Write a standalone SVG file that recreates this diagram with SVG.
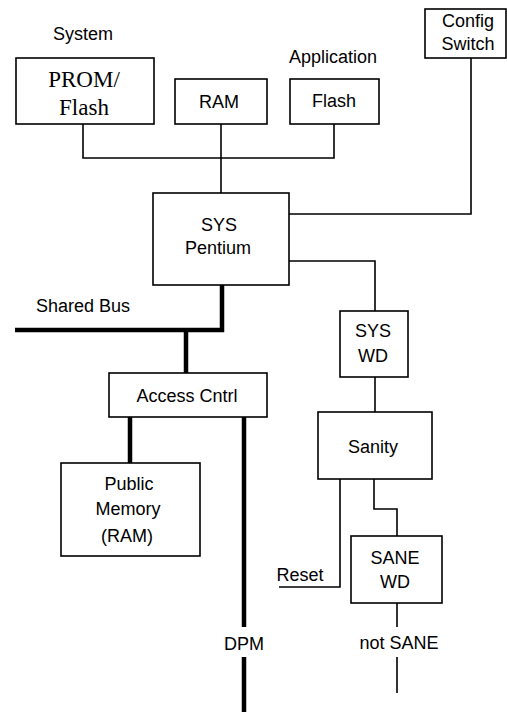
<svg xmlns="http://www.w3.org/2000/svg" width="507" height="712" viewBox="0 0 507 712">
<style>
.box{fill:#fff;stroke:#000;stroke-width:1.6}
.t{font-family:"Liberation Sans",Arial,sans-serif;font-size:18px;fill:#000;text-anchor:middle}
.s{font-family:"Liberation Serif","Times New Roman",serif;font-size:23px;fill:#000;text-anchor:middle}
.thin{fill:none;stroke:#000;stroke-width:1.6}
.thick{fill:none;stroke:#000;stroke-width:4.5}
</style>
<rect width="507" height="712" fill="#fff"/>
<g id="connectors">
<path class="thin" d="M83 124V158H334V124"/>
<path class="thin" d="M221 124V193"/>
<path class="thin" d="M289 214H471V58"/>
<path class="thin" d="M289 261H375V311"/>
<path class="thin" d="M375 377V412"/>
<path class="thin" d="M340 479V587H279"/>
<path class="thin" d="M374 479V509H397V536"/>
<path class="thin" d="M397 603V627M397 657V693"/>
<path class="thick" d="M15 330H222V285"/>
<path class="thick" d="M186 330V373"/>
<path class="thick" d="M130 417V463"/>
<path class="thick" d="M244 417V627M244 657V712"/>
</g>
<g id="label-system"><text class="t" x="83" y="40">System</text></g>
<g id="label-application"><text class="t" x="333" y="63">Application</text></g>
<g id="prom"><rect class="box" x="16" y="58" width="138" height="66"/><text class="s" x="84" y="87">PROM/</text><text class="s" x="84" y="115">Flash</text></g>
<g id="ram"><rect class="box" x="175" y="79" width="92" height="45"/><text class="t" x="219" y="108">RAM</text></g>
<g id="flash"><rect class="box" x="290" y="79" width="89" height="45"/><text class="t" x="334" y="107">Flash</text></g>
<g id="config"><rect class="box" x="425" y="9" width="81" height="49"/><text class="t" x="468" y="27">Config</text><text class="t" x="468" y="50">Switch</text></g>
<g id="pentium"><rect class="box" x="153" y="193" width="136" height="92"/><text class="t" x="219" y="231">SYS</text><text class="t" x="218" y="254">Pentium</text></g>
<g id="label-shared-bus"><text class="t" x="83" y="312">Shared Bus</text></g>
<g id="access"><rect class="box" x="109" y="373" width="158" height="44"/><text class="t" x="187" y="402">Access Cntrl</text></g>
<g id="public"><rect class="box" x="61" y="463" width="139" height="93"/><text class="t" x="129" y="490">Public</text><text class="t" x="128" y="515">Memory</text><text class="t" x="127" y="542">(RAM)</text></g>
<g id="label-dpm"><text class="t" x="244" y="650">DPM</text></g>
<g id="syswd"><rect class="box" x="340" y="311" width="68" height="66"/><text class="t" x="373" y="337">SYS</text><text class="t" x="373" y="362">WD</text></g>
<g id="sanity"><rect class="box" x="318" y="412" width="114" height="67"/><text class="t" x="373" y="453">Sanity</text></g>
<g id="label-reset"><text class="t" x="300" y="581">Reset</text></g>
<g id="sanewd"><rect class="box" x="351" y="536" width="91" height="67"/><text class="t" x="395" y="564">SANE</text><text class="t" x="395" y="588">WD</text></g>
<g id="label-not-sane"><text class="t" x="399" y="649">not SANE</text></g>
</svg>
